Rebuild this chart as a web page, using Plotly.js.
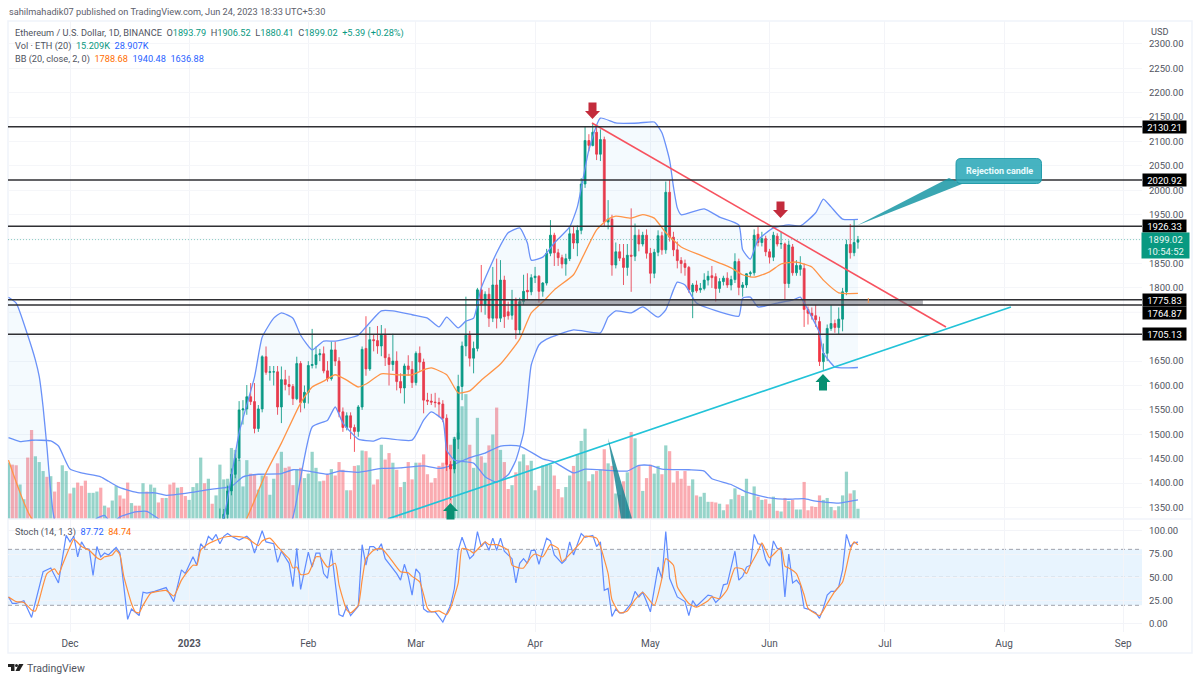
<!DOCTYPE html>
<html><head><meta charset="utf-8">
<script src="https://cdn.plot.ly/plotly-3.0.1.min.js"></script>
<style>html,body{margin:0;padding:0;background:#fff}#c{width:1200px;height:681px}</style></head>
<body><div id="c"></div>
<script>
// ---------- DATA (days are counted from 2022-12-01) ----------
const monthTickDates=["2022-12-01","2023-01-01","2023-02-01","2023-03-01","2023-04-01","2023-05-01","2023-06-01","2023-07-01","2023-08-01","2023-09-01"];
const monthTickLabels=["Dec","<b>2023</b>","Feb","Mar","Apr","May","Jun","Jul","Aug","Sep"];
const priceTicks=[1350,1400,1450,1500,1550,1600,1650,1800,1850,1950,2000,2050,2100,2150,2200,2250,2300];
const coveredPriceGrid=[1700,1750,1900];
const levelValues=[2130.21,2020.92,1926.33,1775.83,1764.87,1705.13];
const candleFirstDay=13;
const candleOpen=[1319,1309,1266,1167,1188,1185,1167,1215,1212,1218,1220,1219,1218,1226,1212,1189,1201,1199,1196,1200,1214,1214,1256,1251,1269,1264,1287,1320,1336,1384,1418,1451,1550,1552,1577,1567,1512,1552,1659,1627,1628,1628,1556,1612,1602,1598,1573,1645,1565,1586,1641,1643,1663,1665,1630,1614,1673,1650,1546,1514,1538,1514,1506,1556,1676,1634,1694,1692,1681,1703,1657,1643,1650,1608,1595,1640,1633,1606,1666,1648,1570,1568,1566,1565,1562,1533,1438,1429,1490,1598,1681,1703,1656,1676,1796,1765,1787,1738,1806,1738,1816,1751,1744,1775,1714,1772,1795,1792,1821,1824,1793,1810,1871,1908,1872,1862,1849,1860,1911,1892,1918,2013,2102,2092,2119,2074,2104,1935,1941,1847,1874,1861,1842,1867,1865,1908,1890,1908,1871,1830,1873,1907,1878,1996,1904,1878,1856,1850,1842,1792,1806,1796,1799,1816,1825,1823,1799,1813,1820,1806,1817,1854,1801,1806,1829,1831,1910,1893,1901,1874,1863,1906,1890,1890,1809,1884,1831,1838,1840,1756,1748,1743,1731,1649,1666,1717,1727,1719,1736,1792,1889,1872,1893.79];
const candleHigh=[1352,1317,1274,1200,1196,1190,1222,1220,1220,1220,1225,1227,1230,1232,1215,1205,1204,1205,1205,1220,1220,1270,1259,1275,1272,1290,1348,1347,1395,1430,1460,1568,1570,1601,1605,1605,1560,1662,1680,1640,1640,1640,1639,1632,1620,1603,1659,1650,1600,1650,1716,1680,1675,1680,1650,1690,1690,1658,1555,1545,1545,1520,1560,1680,1742,1720,1705,1722,1724,1717,1665,1706,1670,1625,1645,1662,1650,1670,1680,1655,1585,1583,1585,1575,1570,1541,1445,1495,1622,1690,1782,1712,1690,1800,1847,1793,1800,1843,1860,1857,1825,1772,1796,1780,1780,1827,1830,1828,1843,1826,1812,1880,1939,1913,1880,1868,1870,1925,1925,1928,2025,2130,2115,2137,2130,2125,2110,1980,1950,1893,1890,1890,1890,1963,1932,1920,1915,1920,1882,1880,1918,1915,2018,2021,1915,1895,1863,1858,1845,1810,1815,1810,1830,1835,1845,1830,1820,1825,1832,1825,1871,1860,1812,1830,1835,1920,1927,1915,1907,1880,1915,1912,1915,1893,1897,1890,1857,1865,1850,1762,1760,1765,1741,1686,1725,1765,1735,1760,1800,1899,1931,1940,1906.52];
const candleLow=[1300,1262,1150,1160,1170,1160,1166,1200,1200,1190,1215,1215,1214,1210,1185,1181,1190,1190,1192,1195,1205,1210,1245,1245,1260,1261,1285,1315,1325,1375,1410,1445,1520,1540,1560,1502,1505,1545,1622,1610,1600,1540,1523,1590,1580,1560,1570,1545,1553,1563,1635,1635,1650,1625,1608,1610,1640,1535,1505,1508,1490,1464,1495,1550,1620,1630,1670,1665,1660,1640,1600,1630,1590,1584,1563,1620,1595,1600,1630,1543,1560,1560,1555,1535,1525,1425,1365,1420,1470,1570,1660,1639,1625,1670,1750,1745,1720,1730,1717,1730,1718,1735,1735,1695,1705,1765,1775,1785,1810,1770,1782,1805,1865,1845,1845,1840,1825,1855,1880,1865,1910,2005,2080,2090,2062,2060,1925,1920,1825,1840,1855,1806,1825,1792,1855,1875,1885,1860,1809,1820,1865,1868,1870,1895,1865,1840,1830,1825,1790,1738,1790,1790,1795,1805,1800,1772,1790,1805,1800,1795,1810,1785,1782,1800,1822,1825,1885,1885,1865,1850,1855,1885,1880,1776,1800,1825,1825,1825,1720,1725,1735,1720,1640,1632,1650,1712,1708,1705,1711,1785,1860,1865,1880.41];
const candleClose=[1309,1266,1167,1188,1185,1167,1215,1212,1218,1220,1219,1218,1226,1212,1189,1201,1199,1196,1200,1214,1214,1256,1251,1269,1264,1287,1320,1336,1384,1418,1451,1550,1552,1577,1567,1512,1552,1659,1627,1628,1628,1556,1612,1602,1598,1573,1645,1565,1586,1641,1643,1663,1665,1630,1614,1673,1650,1546,1514,1538,1514,1506,1556,1674,1634,1694,1692,1681,1703,1657,1643,1650,1608,1595,1640,1633,1606,1666,1648,1570,1568,1566,1565,1562,1533,1438,1429,1490,1598,1681,1703,1656,1676,1796,1765,1787,1738,1806,1738,1816,1741,1743,1775,1714,1772,1793,1792,1821,1824,1793,1810,1871,1908,1872,1862,1849,1860,1911,1892,1918,2013,2102,2092,2119,2074,2104,1935,1941,1847,1874,1861,1842,1867,1865,1908,1890,1908,1871,1830,1873,1907,1878,1996,1904,1878,1856,1850,1842,1796,1806,1794,1799,1816,1824,1821,1799,1813,1820,1806,1817,1854,1801,1806,1829,1831,1908,1893,1901,1874,1863,1908,1890,1891,1809,1888,1831,1846,1846,1756,1748,1743,1735,1649,1666,1717,1727,1719,1736,1792,1889,1872,1893,1899.02];
const volumeFirstDay=-16;
const volumeK=[87,84,83,53,30,95,138,97,88,74,65,66,42,57,83,74,39,48,56,51,59,40,40,42,48,20,17,28,51,36,31,56,24,20,20,55,42,53,48,25,32,32,53,56,48,49,35,29,49,55,95,55,62,23,36,84,61,62,110,107,92,50,91,70,69,45,67,66,37,62,86,104,79,81,52,77,79,63,70,104,79,58,59,69,77,67,88,76,44,44,82,83,106,105,95,53,61,115,92,102,87,76,49,57,88,61,87,87,100,69,56,63,82,87,84,115,127,134,175,194,115,79,157,97,87,114,131,173,107,88,46,52,72,89,100,83,90,44,51,83,84,84,67,46,33,49,67,82,100,121,140,58,69,74,76,108,86,82,39,37,58,72,135,125,82,43,63,84,70,82,69,114,105,56,74,62,74,51,61,36,34,40,26,26,25,23,13,22,30,47,37,35,62,13,50,34,29,30,23,34,12,11,32,27,29,14,14,57,13,19,18,36,29,32,18,13,19,36,73,39,44,15.209];
const earlyVolumeUp=[1,0,0,1,1,0,0,1,1,1,0,1,0,0,1,1,0,1,0,0,0,1,1,1,0,1,0,1,1];
const volumeAverageDays=[-16,-13,-10,-5,-3,0,3,8,10,13,18,22,25,30,36,42,45,49,55,58,62,67,70,75,81,86,92,96,99,104,108,112,117,123,126,131,134,140,145,148,151,154,161,165,167,172,176,182,187,191,194,200,205];
const volumeAverageK=[126,120,122,121,113,77,71,65,58,48,40,40,36,39,45,50,65,69,70,76,74,69,74,72,78,79,82,78,82,95,102,113,113,93,88,71,77,75,74,83,83,77,76,74,62,53,41,32,30,31,27,24,28.907];
const bbUpperDays=[-16,-14,-11,-9,-8,-7,-6,-4,0,7,9,10,12,13,17,20,23,30,36,38,40,44,48,50,53,55,58,60,63,66,69,75,77,81,84,89,93,96,98,101,103,105,107,111,114,117,119,120,123,126,130,132,135,138,142,148,152,154,156,157,158,159,165,169,174,175,177,179,183,187,190,194,196,198,201,205];
const bbUpper=[1781,1769,1703,1652,1618,1556,1474,1325,1280,1328,1334,1325,1325,1331,1341,1342,1327,1290,1275,1300,1330,1503,1617,1699,1738,1749,1738,1703,1673,1691,1691,1703,1720,1753,1753,1745,1738,1720,1740,1718,1732,1738,1800,1872,1913,1923,1892,1857,1863,1892,1925,1966,2083,2148,2138,2138,2140,2118,2062,2007,1964,1950,1962,1945,1929,1878,1859,1898,1923,1929,1927,1954,1982,1966,1941,1940.48];
const bbLowerDays=[-16,0,20,40,50,58,63,67,69,71,75,79,81,89,92,94,97,98,100,105,108,111,114,116,118,119,120,122,124,131,138,140,142,146,149,153,155,157,158,160,163,169,174,175,177,179,184,188,190,192,193,195,196,199,202,205];
const bbLower=[1050,1060,1130,1150,1170,1330,1515,1529,1556,1523,1490,1486,1492,1488,1529,1546,1529,1468,1447,1441,1413,1402,1417,1447,1503,1570,1642,1683,1695,1714,1708,1740,1753,1749,1761,1740,1755,1796,1812,1806,1769,1751,1742,1779,1781,1761,1769,1775,1781,1755,1740,1708,1667,1638,1636,1636.88];
const bbBasisDays=[-16,-10,0,20,40,46,51,55,60,63,66,69,72,75,77,81,85,89,92,94,98,101,104,107,112,117,120,123,126,131,133,137,140,142,146,149,152,155,159,164,169,172,175,178,182,185,189,193,196,200,205];
const bbBasis=[1447,1328,1270,1240,1245,1328,1421,1482,1564,1597,1609,1622,1611,1597,1603,1624,1622,1622,1632,1636,1622,1585,1589,1611,1644,1695,1749,1771,1796,1827,1857,1919,1941,1947,1943,1950,1943,1913,1884,1867,1851,1841,1827,1822,1833,1849,1853,1843,1816,1790,1788.68];
const stochKDays=[-16,-15,-14,-12,-10,-7,-5,-3,-1,0,1,2,3,4,5,6,7,8,9,10,12,13,15,16,18,19,20,22,25,27,29,30,32,33,34,35,36,37,38,39,40,41,42,44,46,47,48,50,51,53,54,55,57,58,59,60,62,63,64,65,66,67,68,70,71,72,73,75,76,77,78,79,80,81,82,83,85,86,87,88,89,90,91,92,93,95,97,99,100,101,102,104,105,106,107,108,109,110,111,112,113,115,116,117,118,119,120,121,122,124,125,126,128,129,130,131,133,134,136,137,138,139,140,141,142,143,144,146,147,148,149,150,151,153,154,155,156,158,160,161,162,163,166,167,168,169,170,171,173,174,175,176,177,178,179,180,181,182,183,184,185,186,187,188,189,190,191,192,194,195,196,197,198,199,200,201,202,203,204,205];
const stochK=[29,22,22,25,7,56,60,44,95,88,94,72,88,81,80,52,83,72,76,74,82,76,5,16,9,34,33,35,39,24,58,54,72,63,86,81,94,90,96,86,94,97,94,90,94,90,76,100,88,86,66,78,65,40,81,37,77,61,76,76,54,49,79,10,8,19,9,19,85,63,83,83,79,86,70,65,54,47,64,51,31,59,54,16,13,13,2,20,38,79,93,70,74,99,83,88,79,92,79,92,78,70,44,65,70,65,79,79,64,92,89,74,65,69,88,74,97,93,95,83,88,36,38,8,16,12,12,22,35,29,34,24,13,61,49,99,49,29,24,9,25,19,31,30,23,27,42,43,78,47,51,61,63,96,86,85,69,62,89,81,80,29,75,44,47,42,17,16,12,6,17,31,35,35,40,58,96,83,87,87.72];
const stochDDays=[-16,-14,-12,-10,-9,-8,-6,-4,-3,-2,0,1,3,5,7,8,9,11,12,13,14,16,17,18,19,21,23,25,27,29,32,33,34,36,37,40,43,46,49,50,52,54,56,57,58,59,60,62,64,65,67,69,70,72,73,75,76,77,79,81,83,86,88,89,91,93,94,96,98,99,101,102,104,105,108,109,111,114,115,117,118,120,121,123,125,127,128,131,133,134,137,138,140,141,143,145,147,149,152,154,155,157,158,161,163,166,167,169,171,173,175,176,177,179,180,181,182,185,186,187,189,191,192,195,197,199,201,203,204,205];
const stochD=[29,24,23,15,14,26,54,59,53,63,83,91,83,79,71,69,72,74,79,74,51,22,13,12,20,33,35,36,30,47,63,63,79,86,88,93,94,92,84,89,92,83,74,70,60,61,53,54,72,72,61,65,42,15,12,20,47,70,79,81,72,56,55,51,45,17,13,14,10,17,44,81,79,76,88,85,85,79,63,60,60,72,75,72,85,81,67,79,88,94,92,83,54,26,12,14,26,34,20,49,70,63,40,22,18,25,29,27,37,60,59,54,63,78,87,79,71,82,62,60,54,31,17,9,22,35,45,79,88,84.74];
const resistanceDays=[135.8,227.9], resistancePrices=[2138,1720];
const supportDays=[82.7,244.8], supportPrices=[1326.6,1761];

// ---------- HELPERS ----------
const BASE=Date.UTC(2022,11,1);
const day=d=>new Date(BASE+d*864e5).toISOString().slice(0,19).replace('T',' ');
const seq=(first,n)=>Array.from({length:n},(_,i)=>day(first+i));
const X=px=>(px-8)/1134, Y=py=>(632-py)/611;
const UP='#089981', DOWN='#f23645', BLUE='#6a91f8', ORANGE='#ff9447';
const FONT='Roboto, sans-serif';
const noHover={hoverinfo:'skip'};
const smooth=(color,w)=>({color,width:w,shape:'spline',smoothing:0.5});

const candleDates=seq(candleFirstDay,candleOpen.length);
const volumeDates=seq(volumeFirstDay,volumeK.length);
const volumeColors=volumeK.map((_,i)=>{
  const d=volumeFirstDay+i; let up;
  if(d<candleFirstDay) up=earlyVolumeUp[i];
  else {const j=d-candleFirstDay; up=candleClose[j]>=candleOpen[j];}
  return up?'rgba(8,153,129,0.42)':'rgba(242,54,69,0.42)';
});

const traces=[
 {type:'bar',x:volumeDates,y:volumeK,marker:{color:volumeColors,line:{width:0}},xaxis:'x',yaxis:'y',...noHover},
 {type:'scatter',mode:'lines',x:volumeAverageDays.map(day),y:volumeAverageK,line:smooth(BLUE,1.3),xaxis:'x',yaxis:'y',...noHover},
 {type:'scatter',mode:'lines',x:bbLowerDays.map(day),y:bbLower,line:smooth(BLUE,1.3),xaxis:'x',yaxis:'y2',...noHover},
 {type:'scatter',mode:'lines',x:bbUpperDays.map(day),y:bbUpper,line:smooth(BLUE,1.3),fill:'tonexty',fillcolor:'rgba(33,150,243,0.05)',xaxis:'x',yaxis:'y2',...noHover},
 {type:'scatter',mode:'lines',x:bbBasisDays.map(day),y:bbBasis,line:smooth(ORANGE,1.3),xaxis:'x',yaxis:'y2',...noHover},
 {type:'candlestick',x:candleDates,open:candleOpen,high:candleHigh,low:candleLow,close:candleClose,
  increasing:{line:{color:UP,width:0.85},fillcolor:UP},decreasing:{line:{color:DOWN,width:0.85},fillcolor:DOWN},xaxis:'x',yaxis:'y2',hoverinfo:'skip'},
 {type:'scatter',mode:'lines',x:resistanceDays.map(day),y:resistancePrices,line:{color:'#f7525f',width:1.6},xaxis:'x',yaxis:'y2',...noHover},
 {type:'scatter',mode:'lines',x:supportDays.map(day),y:supportPrices,line:{color:'#22c3d8',width:1.7},xaxis:'x',yaxis:'y2',...noHover},
 {type:'scatter',mode:'lines',x:stochKDays.map(day),y:stochK,line:{color:'#5f8bff',width:1.2},xaxis:'x',yaxis:'y3',...noHover},
 {type:'scatter',mode:'lines',x:stochDDays.map(day),y:stochD,line:smooth('#ff8f3f',1.2),xaxis:'x',yaxis:'y3',...noHover}
];

// ---------- SHAPES ----------
const shapes=[];
shapes.push({type:'rect',xref:'paper',yref:'paper',x0:X(8),x1:X(1192),y0:Y(653),y1:Y(21),line:{color:'#f0f3fa',width:1.5},fillcolor:'rgba(0,0,0,0)',layer:'below'});
shapes.push({type:'line',xref:'paper',yref:'paper',x0:0,x1:X(1192),y0:Y(519),y1:Y(519),line:{color:'#f0f3fa',width:1.5},layer:'below'});
coveredPriceGrid.forEach(v=>shapes.push({type:'line',xref:'paper',yref:'y2',x0:0,x1:1,y0:v,y1:v,line:{color:'#f5f6f9',width:1},layer:'below'}));
shapes.push({type:'rect',xref:'paper',yref:'y3',x0:0,x1:1,y0:20,y1:80,fillcolor:'rgba(33,150,243,0.1)',line:{width:0},layer:'below'});
[20,50,80].forEach(v=>shapes.push({type:'line',xref:'paper',yref:'y3',x0:0,x1:1,y0:v,y1:v,line:{color:'#8a8d98',width:0.8,dash:'4px,3px'},layer:'below'}));
shapes.push({type:'rect',xref:'x',yref:'y2',x0:day(116.7),x1:day(221.9),y0:1764.87,y1:1775.83,fillcolor:'rgba(110,110,118,0.55)',line:{width:0}});
levelValues.forEach(v=>shapes.push({type:'line',xref:'paper',yref:'y2',x0:0,x1:1,y0:v,y1:v,line:{color:'#2f2f33',width:1.5}}));
shapes.push({type:'line',xref:'paper',yref:'y2',x0:0,x1:1,y0:1899.02,y1:1899.02,line:{color:'rgba(8,153,129,0.45)',width:1,dash:'1px,2px'}});
shapes.push({type:'line',xref:'paper',yref:'paper',x0:X(868.3),x1:X(868.3),y0:Y(298),y1:Y(303),line:{color:'#ff9a52',width:1}});
function arrow(cx,tip,dir,color){
  const h=16.5*dir,headH=8*dir;
  const p=[[cx,tip],[cx+7.5,tip-headH],[cx+4,tip-headH],[cx+4,tip-h],[cx-4,tip-h],[cx-4,tip-headH],[cx-7.5,tip-headH]];
  shapes.push({type:'path',xref:'paper',yref:'paper',path:'M'+p.map(q=>X(q[0]).toFixed(5)+' '+Y(q[1]).toFixed(5)).join(' L')+' Z',fillcolor:color,line:{width:0}});
}
arrow(592.5,119,1,'#c32b3c');
arrow(780.5,218,1,'#c32b3c');
arrow(823,374,-1,'#089073');
arrow(450.5,503,-1,'#089073');
const poly=(pts,fill)=>shapes.push({type:'path',xref:'paper',yref:'paper',path:'M'+pts.map(q=>X(q[0]).toFixed(5)+' '+Y(q[1]).toFixed(5)).join(' L')+' Z',fillcolor:fill,line:{width:0}});
poly([[857,225.5],[949,178],[962,184]],'rgba(24,150,165,0.85)');
poly([[608,438],[621,518.5],[632,518.5]],'rgba(18,130,145,0.82)');
(function(){const l=956,r=1041.5,t=158.5,b=183.5,c=5;
 const f=q=>X(q[0]).toFixed(5)+' '+Y(q[1]).toFixed(5);
 const path='M'+f([l+c,t])+' L'+f([r-c,t])+' Q'+f([r,t])+' '+f([r,t+c])+' L'+f([r,b-c])+' Q'+f([r,b])+' '+f([r-c,b])+' L'+f([l+c,b])+' Q'+f([l,b])+' '+f([l,b-c])+' L'+f([l,t+c])+' Q'+f([l,t])+' '+f([l+c,t])+' Z';
 shapes.push({type:'path',xref:'paper',yref:'paper',path,fillcolor:'rgba(38,166,182,0.85)',line:{color:'rgba(24,150,165,0.9)',width:1}});
})();
[[[8,664],[14.5,664],[14.5,671],[11,671],[11,667],[8,667]],[[19,664],[23.5,664],[19.5,671],[15.5,671]]].forEach(p=>poly(p,'#222'));
shapes.push({type:'circle',xref:'paper',yref:'paper',x0:X(15),x1:X(18),y0:Y(667),y1:Y(664),fillcolor:'#222',line:{width:0}});

// ---------- ANNOTATIONS ----------
const ann=[];
const txt=(px,py,text,size,color,anchor)=>ann.push({xref:'paper',yref:'paper',x:X(px),y:Y(py),text,showarrow:false,xanchor:anchor||'left',yanchor:'middle',font:{family:FONT,size:size||9.2,color:color||'#50535e'},borderpad:0});
const c=(col,t)=>`<span style="color:${col}">${t}</span>`;
txt(8,12,'sahilmahadik07 published on TradingView.com, Jun 24, 2023 18:33 UTC+5:30',9.2,'#5d606b');
txt(14,33,'Ethereum / U.S. Dollar, 1D, BINANCE  O'+c(UP,'1893.79')+'  H'+c(UP,'1906.52')+'  L'+c(UP,'1880.41')+'  C'+c(UP,'1899.02')+'  '+c(UP,'+5.39 (+0.28%)'));
txt(14,46,'Vol · ETH (20)  '+c(UP,'15.209K')+'  '+c('#2962ff','28.907K'));
txt(14,59,'BB (20, close, 2, 0)  '+c('#ff6d00','1788.68')+'  '+c('#2962ff','1940.48')+'  '+c('#2962ff','1636.88'));
txt(14,531.7,'Stoch (14, 1, 3)  '+c('#2962ff','87.72')+'  '+c('#ff6d00','84.74'));
txt(1150,31.5,'USD',9.2,'#50535e');
txt(26,668,'TradingView',10.5,'#50535e');
txt(999,171,'<b>Rejection candle</b>',9,'#e9fbfd','center');
levelValues.forEach(v=>{
  ann.push({xref:'paper',yref:'y2',x:X(1164.5),y:v,yshift:v===1764.87?-8:0,text:v.toFixed(2),showarrow:false,xanchor:'center',yanchor:'middle',width:43,height:12,bgcolor:'#000',font:{family:FONT,size:9.5,color:'#fff'},borderpad:0});
});
ann.push({xref:'paper',yref:'paper',x:X(1165.5),y:Y(245),text:'1899.02<br>10:54:52',showarrow:false,xanchor:'center',yanchor:'middle',width:47,height:24.5,bgcolor:'#089981',font:{family:FONT,size:9.5,color:'#e6f7f3'},borderpad:0});

const layout={
 width:1200,height:681,margin:{l:8,r:58,t:21,b:49,pad:0},paper_bgcolor:'#fff',plot_bgcolor:'#fff',showlegend:false,bargap:0.16,dragmode:false,
 font:{family:FONT,size:9.5,color:'#50535e'},
 xaxis:{type:'date',anchor:'y3',range:[day(-16.13),day(278.9)],tickmode:'array',tickvals:monthTickDates,ticktext:monthTickLabels,showgrid:true,gridcolor:'#f3f4f8',gridwidth:1,zeroline:false,showline:false,ticks:'',ticklabelstandoff:4,rangeslider:{visible:false},tickfont:{family:FONT,size:10,color:'#50535e'}},
 yaxis:{domain:[0.1858,1],range:[0,776],visible:false,fixedrange:true,showgrid:false},
 yaxis2:{domain:[0.1858,1],overlaying:'y',side:'right',anchor:'x',range:[1327.5,2347],tickmode:'array',tickvals:priceTicks,ticktext:priceTicks.map(v=>v.toFixed(2)),showgrid:true,gridcolor:'#f5f6f9',gridwidth:1,zeroline:false,showline:false,ticks:'',ticklabelstandoff:6,tickfont:{family:FONT,size:9.5,color:'#50535e'}},
 yaxis3:{domain:[0,0.1849],anchor:'x',side:'right',range:[-8.6,112.5],tickmode:'array',tickvals:[0,25,50,75,100],ticktext:['0.00','25.00','50.00','75.00','100.00'],showgrid:true,gridcolor:'#f3f4f8',gridwidth:1,zeroline:false,showline:false,ticks:'',ticklabelstandoff:6,tickfont:{family:FONT,size:9.5,color:'#50535e'}},
 shapes,annotations:ann
};
Plotly.newPlot('c',traces,layout,{staticPlot:true,displayModeBar:false});
</script></body></html>
